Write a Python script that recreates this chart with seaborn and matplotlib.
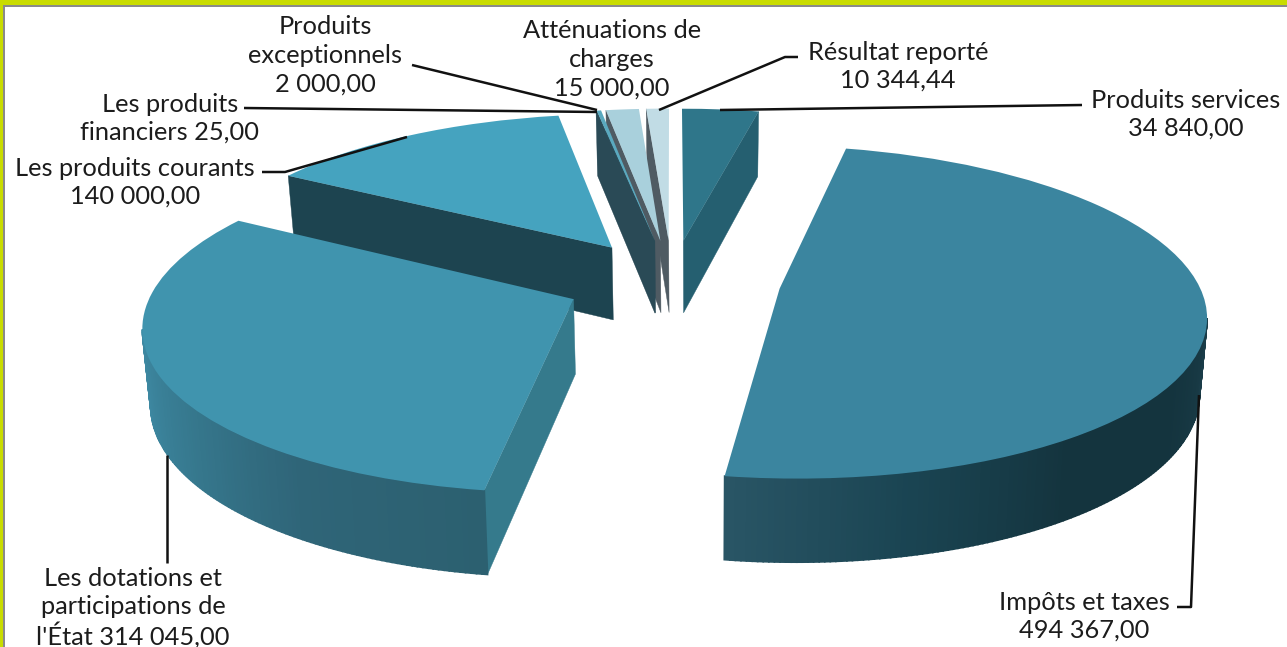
import numpy as np
import matplotlib
matplotlib.use("Agg")
import matplotlib.pyplot as plt
from matplotlib.patches import Rectangle
from matplotlib.transforms import Transform
import seaborn as sns

# ---- data ----
categories = ["Produits services", "Impôts et taxes",
              "Les dotations et participations de l'État",
              "Les produits courants", "Les produits financiers",
              "Produits exceptionnels", "Atténuations de charges",
              "Résultat reporté"]
values = [34840.00, 494367.00, 314045.00, 140000.00, 25.00, 2000.00, 15000.00, 10344.44]
label_texts = ["Produits services\n34 840,00", "Impôts et taxes\n494 367,00",
               "Les dotations et\nparticipations de\nl'État 314 045,00",
               "Les produits courants\n140 000,00", "Les produits\nfinanciers 25,00",
               "Produits\nexceptionnels\n2 000,00", "Atténuations de\ncharges\n15 000,00",
               "Résultat reporté\n10 344,44"]

# ---- style ----
top_colors = ["#2f768a", "#3b859f", "#4094ae", "#45a3bf", "#45a3bf", "#5aa9bf", "#a9d0dc", "#c1dce5"]
cut_colors = ["#255f70", "#1d4450", "#357a8c", "#1d4450", "#2a4a56", "#2a4a56", "#4f5b63", "#4f5b63"]
wall_ramps = [["#255f70", "#255f70"],
              ["#295565", "#1a4452", "#14343e", "#14343e", "#1a3c48"],
              ["#3f8ca6", "#377a90", "#2f6578", "#2c6070"],
              ["#1d4450", "#1d4450"], ["#2a4a56", "#2a4a56"], ["#2a4a56", "#2a4a56"],
              ["#4f5b63", "#4f5b63"], ["#4f5b63", "#4f5b63"]]
paint_order = [7, 6, 5, 4, 0, 3, 2, 1]
explode = [0.26, 0.26, 0.257, 0.26, 0.26, 0.26, 0.26, 0.26]

CX, CY, SX, SY, K, DEPTH, K_DEPTH, SHRINK, VX = 672.0, 281.0, 418.0, 161.0, 0.14, 74.0, 0.11, 0.985, 700.0


def project(xy):
    xy = np.asarray(xy, dtype=float)
    w = 1 + K * xy[..., 1]
    return np.stack([CX + SX * xy[..., 0] / w, CY - SY * xy[..., 1] / w], axis=-1)


def drop(xy):
    """Screen position of the underside of a plate point."""
    xy = np.asarray(xy, dtype=float)
    p = project(xy)
    p[..., 1] += DEPTH / (1 + K_DEPTH * xy[..., 1])
    p[..., 0] = VX + (p[..., 0] - VX) * SHRINK
    return p


class Perspective(Transform):
    input_dims = 2
    output_dims = 2
    is_separable = False
    has_inverse = False

    def transform_non_affine(self, values):
        return project(values)


sns.set_theme(style="white")
plt.rcParams["font.family"] = ["Lato", "DejaVu Sans"]

fig = plt.figure(figsize=(12.87, 6.47), dpi=100, facecolor="white")
ax = fig.add_axes([0, 0, 1, 1])

wedges, _ = ax.pie(values, colors=top_colors, explode=explode, startangle=90,
                   counterclock=False, radius=1.0, wedgeprops={"linewidth": 0})

persp = Perspective() + ax.transData
for rank, i in enumerate(paint_order):
    w = wedges[i]
    w.set_transform(persp)
    w.set_clip_on(False)
    w.set_zorder(rank * 10 + 5)
    c = np.array(w.center)
    a1, a2 = np.radians(w.theta1), np.radians(w.theta2)
    angles = np.linspace(a1, a2, max(2, int(np.degrees(a2 - a1) * 1.5) + 2))
    rim = c + np.column_stack([np.cos(angles), np.sin(angles)])

    def face(p, q, color, z, lw):
        P = project(np.array([p, q]))
        D = drop(np.array([p, q]))
        ax.fill([P[0, 0], P[1, 0], D[1, 0], D[0, 0]], [P[0, 1], P[1, 1], D[1, 1], D[0, 1]],
                color=color, lw=lw, zorder=z, clip_on=False)

    # cut faces
    for p, q in ((c, rim[0]), (rim[-1], c)):
        if project(q)[0] - project(p)[0] > 2.0:
            face(p, q, cut_colors[i], rank * 10 + 1, 0.3)
    # outer wall
    segs = [(rim[k], rim[k + 1]) for k in range(len(rim) - 1)
            if project(rim[k + 1])[0] > project(rim[k])[0]]
    if segs:
        ramp = sns.blend_palette(wall_ramps[i], n_colors=max(len(segs), 2))
        for (p, q), col in zip(segs, ramp):
            face(p, q, col, rank * 10 + 2, 1.2)

ax.set_aspect("auto")
ax.set_xlim(0, 1287)
ax.set_ylim(647, 0)
ax.axis("off")

# labels: (centre x, first-line centre y)
label_pos = [(1186, 100), (1084, 602), (133, 578), (135, 168), (170, 104), (325, 27), (612, 31), (898, 52)]
LINE = 28.5
for txt, (x, y) in zip(label_texts, label_pos):
    for n, line in enumerate(txt.split("\n")):
        ax.text(x, y + n * LINE, line, ha="center", va="center", fontsize=18.3,
                color="#1c1c1c", zorder=200)

leaders = [([720, 1082], [110, 105]),
           ([1177, 1191, 1199], [607, 607, 395]),
           ([167, 167], [455, 563]),
           ([262, 285, 407], [172, 172, 137]),
           ([244, 597], [108, 112]),
           ([412, 597], [65, 110]),
           ([659, 785, 798], [110, 57, 57])]
for xs, ys in leaders:
    ax.plot(xs, ys, color="#111111", lw=1.8, zorder=150, solid_capstyle="butt")

# slide frame
ax.add_patch(Rectangle((0, 0), 1287, 5, color="#c9dc00", lw=0, zorder=300))
ax.add_patch(Rectangle((0, 0), 3, 647, color="#c9dc00", lw=0, zorder=300))
ax.add_patch(Rectangle((3, 5), 1284, 1.5, color="#8a8a8a", lw=0, zorder=299))
ax.add_patch(Rectangle((3, 5), 2, 642, color="#8a8a8a", lw=0, zorder=299))

fig.savefig("out.png", dpi=100)
